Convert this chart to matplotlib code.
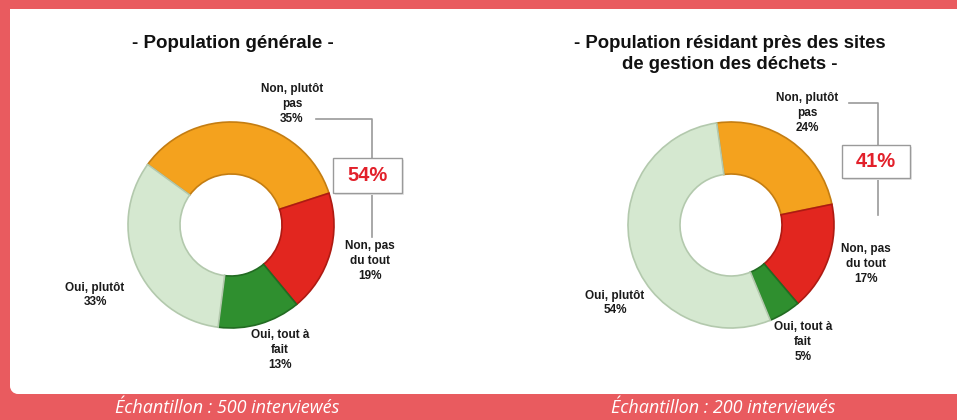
import matplotlib
matplotlib.use("Agg")
import matplotlib.pyplot as plt
from matplotlib.patches import Rectangle, Circle

# --- DATA ---
categories = ["Non, plutôt\npas", "Non, pas\ndu tout", "Oui, tout à\nfait", "Oui, plutôt"]
general_pct = [35, 19, 13, 33]
riverains_pct = [24, 17, 5, 54]
general_total_non = "54%"
riverains_total_non = "41%"
titles = ["- Population générale -",
          "- Population résidant près des sites\nde gestion des déchets -"]
footers = ["Échantillon : 500 interviewés", "Échantillon : 200 interviewés"]

colors = ["#F4A21E", "#E2261F", "#2F8F2F", "#D5E8D0"]
edges = ["#C47D12", "#AE1A12", "#226B22", "#B3C9AD"]
RED = "#E95B5F"

W, H = 957, 420
fig = plt.figure(figsize=(W / 100, H / 100), dpi=100)
fig.patch.set_facecolor(RED)
ax = fig.add_axes([0, 0, 1, 1])
ax.set_xlim(0, W)
ax.set_ylim(0, H)
ax.axis("off")


def Y(y):
    # pixel rows from top -> data y
    return H - y


# white panel, square top, rounded bottom-left corner
r = 8
ax.add_patch(Rectangle((10, Y(394) + r), W, 394 - 9 - r, fc="white", ec="none", zorder=1))
ax.add_patch(Rectangle((10 + r, Y(394)), W, r + 1, fc="white", ec="none", zorder=1))
ax.add_patch(Circle((10 + r, Y(394) + r), r, fc="white", ec="none", zorder=1))


def donut(cx, cy, values, start):
    wedges, _ = ax.pie(values, colors=colors, startangle=start, counterclock=False,
                       radius=103, center=(cx, Y(cy)), frame=True,
                       wedgeprops=dict(width=52, linewidth=1.2))
    for w, e in zip(wedges, edges):
        w.set_edgecolor(e)
        w.set_zorder(3)
    return wedges


def lab(x, y, s):
    ax.text(x, Y(y), s, ha="center", va="center", fontsize=8.5, fontweight="bold",
            family="Liberation Sans", color="#1a1a1a", linespacing=1.3, zorder=5)


def callout(pts, box, txt):
    xs = [p[0] for p in pts]
    ys = [Y(p[1]) for p in pts]
    ax.plot(xs, ys, color="#9a9a9a", lw=1.2, zorder=2)
    bx0, by0, bx1, by1 = box
    ax.add_patch(Rectangle((bx0 + 2, Y(by1) - 2), bx1 - bx0, by1 - by0, fc="#e6e6e6",
                           ec="none", zorder=3))
    ax.add_patch(Rectangle((bx0, Y(by1)), bx1 - bx0, by1 - by0, fc="white",
                           ec="#9a9a9a", lw=1, zorder=4))
    ax.text((bx0 + bx1) / 2, Y((by0 + by1) / 2), txt, ha="center", va="center",
            fontsize=14.5, fontweight="bold", family="Liberation Sans", color="#E2202A",
            zorder=5)


# --- left donut ---
donut(231, 225, general_pct, 144)
ax.text(233, Y(43), titles[0], ha="center", va="center", fontsize=13.5,
        fontweight="bold", family="Liberation Sans", color="#111111")
lab(292, 104, categories[0] + "\n" + f"{general_pct[0]}%")
lab(370, 261, categories[1] + "\n" + f"{general_pct[1]}%")
lab(280, 350, categories[2] + "\n" + f"{general_pct[2]}%")
lab(95, 295, categories[3] + "\n" + f"{general_pct[3]}%")
ax.plot([316, 372, 372], [Y(119), Y(119), Y(158)], color="#9a9a9a", lw=1.2, zorder=2)
callout([(372, 193), (372, 237)], (333, 158, 402, 193), general_total_non)

# --- right donut ---
donut(731, 225, riverains_pct, 98)
ax.text(730, Y(54), titles[1], ha="center", va="center", fontsize=13.3,
        fontweight="bold", family="Liberation Sans", color="#111111", linespacing=1.3)
lab(807, 113, categories[0] + "\n" + f"{riverains_pct[0]}%")
lab(866, 264, categories[1] + "\n" + f"{riverains_pct[1]}%")
lab(803, 342, categories[2] + "\n" + f"{riverains_pct[2]}%")
lab(615, 303, categories[3] + "\n" + f"{riverains_pct[3]}%")
ax.plot([849, 878, 878], [Y(103), Y(103), Y(145)], color="#9a9a9a", lw=1.2, zorder=2)
callout([(878, 178), (878, 215)], (842, 145, 910, 178), riverains_total_non)

ax.set_xlim(0, W)
ax.set_ylim(0, H)
ax.set_aspect("auto")

# --- footers ---
ax.text(227, Y(408), footers[0], ha="center", va="center", fontsize=13,
        style="italic", family="Open Sans", color="white")
ax.text(723, Y(408), footers[1], ha="center", va="center", fontsize=13,
        style="italic", family="Open Sans", color="white")

fig.savefig("out.png", dpi=100, facecolor=RED)
